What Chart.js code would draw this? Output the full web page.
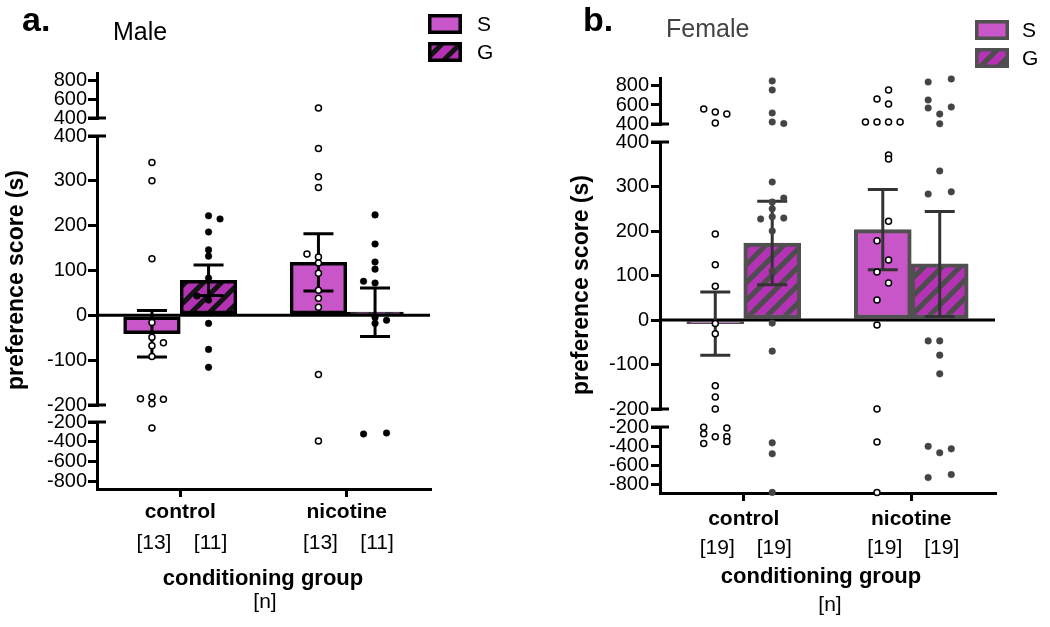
<!DOCTYPE html>
<html><head><meta charset="utf-8">
<script src="https://cdn.jsdelivr.net/npm/chart.js@4/dist/chart.umd.min.js"></script>
<style>
html,body{margin:0;padding:0;background:#fff;}
#wrap{position:relative;width:1050px;height:627px;overflow:hidden;background:#fff;}
canvas{position:absolute;top:0;}
#cM{left:0;} #cF{left:525px;}
</style></head><body>
<div id="wrap"><canvas id="cM" width="525" height="627"></canvas><canvas id="cF" width="525" height="627"></canvas></div>
<script>
const FONT = '"Liberation Sans", Arial, Helvetica, sans-serif';

// ---------- data ----------
const categories = ['control', 'nicotine'];
const seriesLabels = ['S', 'G'];
const topTicks = [400, 600, 800];
const midTicks = [-200, -100, 0, 100, 200, 300, 400];
const botTicks = [-800, -600, -400, -200];

// Male
const maleSMean = [-41, 118];
const maleSSem = [52, 64];
const maleGMean = [78, 7];
const maleGSem = [34, 54];
const maleSN = [13, 13];
const maleGN = [11, 11];
const maleSControl = [341, 300, 126, -16, -49, -68, -61, -92, -186, -182, -197, -187, -261];
const maleSControlJit = [0, 0, 0, 0, 0, 0, 1, 0, -1, 0, 0, 1, 0];
const maleGControl = [222, 215, 186, 146, 132, 83, 43, 34, -18, -76, -116];
const maleGControlJit = [0, 1, 0, 0, 0, 0, -1, 0, 0, 0, 0];
const maleSNicotine = [505, 372, 309, 285, 137, 130, 117, 94, 56, 38, 18, -132, -393];
const maleSNicotineJit = [0, 0, 0, 0, -1, 0, 0, 0, 0, 0, 0, 0, 0];
const maleGNicotine = [224, 159, 119, 103, 76, 72, -5, -18, -11, -322, -312];
const maleGNicotineJit = [0, 0, 0, 0, -1, 0, 0, 0, 1, -1, 1];

// Female
const femaleSMean = [-8, 203];
const femaleSSem = [71, 90];
const femaleGMean = [173, 126];
const femaleGSem = [94, 118];
const femaleSN = [19, 19];
const femaleGN = [19, 19];
const femaleSControl = [558, 526, 505, 410, 193, 124, 76, -8, -31, -148, -173, -200, -203, -210, -270, -300, -300, -370, -350];
const femaleSControlJit = [-1, 0, 1, 0, 0, 0, 0, 0, 0, 0, 0, 0, -1, 1, -1, 0, 1, -1, 1];
const femaleGControl = [853, 758, 516, 421, 405, 310, 274, 265, 250, 232, 227, 229, 200, 110, -7, -70, -364, -477, -877];
const femaleGControlJit = [0, 0, 0, 0, 1, 0, 1, 0, 0, 0, -1, 1, 0, 0, 0, 0, 0, 0, 0];
const femaleSNicotine = [758, 663, 611, 421, 421, 421, 421, 371, 362, 222, 178, 135, 108, 83, 45, -11, -200, -354, -877];
const femaleSNicotineJit = [0.5, -0.5, 0.5, -1.5, -0.5, 0.5, 1.5, 0.5, 0.5, 0.5, -0.5, 0.5, -0.5, 0.5, -0.5, -0.5, -0.5, -0.5, -0.5];
const femaleGNicotine = [874, 842, 653, 579, 568, 505, 402, 335, 288, 283, -47, -47, -79, -121, -400, -426, -467, -692, -723];
const femaleGNicotineJit = [1, -1, -1, 1, -1, 0, 0, 0, 1, -1, -1, 0, 0, 0, -1, 1, 0, 1, -1];

// ---------- helpers ----------
const catPct = 0.68;
const jitterStep = 0.069;
function segOf(v) { return v > 400 ? 'yTop' : (v < -200 ? 'yBot' : 'yMid'); }

function hatch(bg, stripe, size, lw) {
  const c = document.createElement('canvas');
  c.width = size; c.height = size;
  const g = c.getContext('2d');
  g.fillStyle = bg; g.fillRect(0, 0, size, size);
  g.strokeStyle = stripe; g.lineWidth = lw; g.lineCap = 'butt';
  g.beginPath();
  for (const k of [-size, 0, size]) { g.moveTo(k - 3, size + 3); g.lineTo(k + size + 3, -3); }
  g.stroke();
  return g.createPattern(c, 'repeat');
}

function yAxis(min, max, ticksArr, weight, stackWeight, tickPad) {
  return {
    type: 'linear', axis: 'y', position: 'left', stack: 'y', stackWeight, weight, min, max,
    afterBuildTicks: s => { s.ticks = ticksArr.map(v => ({ value: v })); },
    afterFit: s => { s.width = 60; },
    ticks: { autoSkip: false, color: '#000', padding: tickPad, font: { family: FONT, size: 20 }, callback: v => String(v) },
    grid: { display: true, drawOnChartArea: false, drawTicks: true, tickLength: 9, lineWidth: 3, color: '#000' },
    border: { display: true, color: '#000', width: 3 }
  };
}
function gapAxis(weight, stackWeight) {
  return {
    type: 'linear', axis: 'y', position: 'left', stack: 'y', stackWeight, weight, min: 0, max: 1,
    afterFit: s => { s.width = 60; },
    ticks: { display: false }, grid: { display: false }, border: { display: false }
  };
}

const decoPlugin = {
  id: 'deco',
  afterDatasetDraw(chart, args) {
    if (args.meta.type !== 'bar' || args.index !== 0) return;
    const P = chart.options.plugins.deco;
    const ctx = chart.ctx, ca = chart.chartArea, ym = chart.scales.yMid;
    ctx.save();
    const y0 = ym.getPixelForValue(0);
    ctx.strokeStyle = '#000'; ctx.lineWidth = 3;
    ctx.beginPath(); ctx.moveTo(ca.left, y0); ctx.lineTo(ca.right, y0); ctx.stroke();
    ctx.strokeStyle = P.errColor; ctx.lineWidth = 3;
    [[P.sMean, P.sSem], [P.gMean, P.gSem]].forEach(([m, e], di) => {
      const meta = chart.getDatasetMeta(di);
      m.forEach((mv, i) => {
        const x = meta.data[i].x;
        const yt = ym.getPixelForValue(mv + e[i]);
        const yb = ym.getPixelForValue(mv - e[i]);
        ctx.beginPath();
        ctx.moveTo(x, yt); ctx.lineTo(x, yb);
        ctx.moveTo(x - 15, yt); ctx.lineTo(x + 15, yt);
        ctx.moveTo(x - 15, yb); ctx.lineTo(x + 15, yb);
        ctx.stroke();
      });
    });
    ctx.restore();
  },
  afterDraw(chart) {
    const P = chart.options.plugins.deco;
    const ctx = chart.ctx, ca = chart.chartArea, sc = chart.scales;
    ctx.save();
    ctx.strokeStyle = '#000'; ctx.lineWidth = 3;
    [sc.yTop.bottom, sc.yMid.top, sc.yMid.bottom, sc.yBot.top].forEach(y => {
      ctx.beginPath(); ctx.moveTo(ca.left - 9, y); ctx.lineTo(ca.left + 9, y); ctx.stroke();
    });
    ctx.textAlign = 'left'; ctx.textBaseline = 'alphabetic';
    ctx.fillStyle = '#000'; ctx.font = 'bold 34px ' + FONT;
    ctx.fillText(P.letter, P.letterPos[0], P.letterPos[1]);
    ctx.fillStyle = P.titleColor; ctx.font = '25px ' + FONT;
    ctx.fillText(P.title, P.titlePos[0], P.titlePos[1]);
    [0, 1].forEach(di => {
      const ds = chart.data.datasets[di];
      const lx = P.legendPos[0], ly = P.legendPos[1] + di * P.legendGap;
      ctx.fillStyle = ds.backgroundColor; ctx.fillRect(lx, ly, 34, 20);
      ctx.strokeStyle = ds.borderColor; ctx.lineWidth = 3.5;
      ctx.strokeRect(lx + 1.75, ly + 1.75, 34 - 3.5, 20 - 3.5);
      ctx.fillStyle = '#000'; ctx.font = '21px ' + FONT; ctx.textBaseline = 'middle';
      ctx.fillText(ds.label, P.legendTextX, ly + 11);
    });
    ctx.save();
    ctx.translate(P.yTitlePos[0], P.yTitlePos[1]); ctx.rotate(-Math.PI / 2);
    ctx.textAlign = 'center'; ctx.textBaseline = 'middle'; ctx.fillStyle = '#000';
    ctx.font = 'bold 23px ' + FONT;
    ctx.fillText('preference score (s)', 0, 0);
    ctx.restore();
    ctx.textAlign = 'center'; ctx.textBaseline = 'middle'; ctx.fillStyle = '#000';
    ctx.font = '21px ' + FONT;
    [P.sN, P.gN].forEach((arr, di) => {
      const meta = chart.getDatasetMeta(di);
      arr.forEach((n, i) => ctx.fillText('[' + n + ']', meta.data[i].x + 2, P.nY));
    });
    ctx.font = 'bold 22px ' + FONT;
    ctx.fillText('conditioning group', P.cgPos[0], P.cgPos[1]);
    ctx.font = '21px ' + FONT;
    ctx.fillText('[n]', P.nnPos[0], P.nnPos[1]);
    ctx.restore();
  }
};

function buildPanel(P) {
  const gPattern = hatch(P.gFill, P.stripe, 18, 5);
  const barOff = catPct / 4;
  const barCommon = { borderColor: P.barBorder, borderWidth: P.barBorderW, borderSkipped: false,
    xAxisID: 'xp', yAxisID: 'yMid', order: 1, grouped: false, categoryPercentage: 1, barPercentage: 1 };
  const datasets = [
    Object.assign({ type: 'bar', label: seriesLabels[0], backgroundColor: P.sFill,
      data: P.sMean.map((m, i) => ({ x: i - barOff, y: m })) }, barCommon),
    Object.assign({ type: 'bar', label: seriesLabels[1], backgroundColor: gPattern,
      data: P.gMean.map((m, i) => ({ x: i + barOff, y: m })) }, barCommon)
  ];
  const groups = [
    { pts: P.sPts, jit: P.sJit, side: -1, name: 'S', bg: '#fff', bc: '#000', r: 3, bw: 1.5 },
    { pts: P.gPts, jit: P.gJit, side: 1, name: 'G', bg: P.dotColor, bc: P.dotColor, r: 3.3, bw: 0.5 }
  ];
  groups.forEach(g => {
    ['yTop', 'yMid', 'yBot'].forEach(seg => {
      const data = [];
      g.pts.forEach((vals, ci) => vals.forEach((v, k) => {
        if (segOf(v) === seg) data.push({ x: ci + g.side * barOff + g.jit[ci][k] * jitterStep, y: v });
      }));
      datasets.push({ type: 'scatter', label: g.name + ' points', data, xAxisID: 'xp', yAxisID: seg, order: 0,
        clip: false, pointRadius: g.r, pointBackgroundColor: g.bg, pointBorderColor: g.bc, pointBorderWidth: g.bw,
        showLine: false });
    });
  });
  const w = P.weights;
  new Chart(document.getElementById(P.canvas), {
    type: 'bar',
    data: { labels: categories, datasets },
    options: {
      responsive: false, animation: false, events: [],
      layout: { padding: P.padding },
      plugins: { legend: { display: false }, tooltip: { enabled: false }, title: { display: false },
        deco: P },
      scales: {
        x: { type: 'category', position: 'bottom', offset: true, weight: 2,
          afterFit: s => { s.height = 40; },
          grid: { display: true, offset: false, drawOnChartArea: false, tickLength: 8, lineWidth: 3, color: '#000' },
          border: { display: true, color: '#000', width: 3 },
          ticks: { color: '#000', padding: P.xTickPad, font: { family: FONT, size: 21, weight: 'bold' } } },
        xp: { type: 'linear', axis: 'x', position: 'bottom', display: false, offset: false,
          grid: { offset: false }, min: -0.5, max: 1.5, weight: 1,
          afterBuildTicks: s => { s.ticks = [{ value: -0.5 }, { value: 1.5 }]; } },
        yBot: yAxis(P.botRange[0], P.botRange[1], botTicks, 1, w[4], P.yTickPad),
        gap2: gapAxis(2, w[3]),
        yMid: yAxis(-200, 400, midTicks, 3, w[2], P.yTickPad),
        gap1: gapAxis(4, w[1]),
        yTop: yAxis(P.topRange[0], P.topRange[1], topTicks, 5, w[0], P.yTickPad)
      }
    },
    plugins: [decoPlugin]
  });
}

buildPanel({
  canvas: 'cM', padding: { left: 37, right: 95, top: 73, bottom: 98 },
  weights: [45, 18, 269, 17, 67], topRange: [400, 874], botRange: [-881, -200],
  sMean: maleSMean, sSem: maleSSem, gMean: maleGMean, gSem: maleGSem, sN: maleSN, gN: maleGN,
  sPts: [maleSControl, maleSNicotine], sJit: [maleSControlJit, maleSNicotineJit],
  gPts: [maleGControl, maleGNicotine], gJit: [maleGControlJit, maleGNicotineJit],
  sFill: '#c956c9', gFill: '#b232b2', stripe: '#141414', barBorder: '#000', barBorderW: 3.5,
  errColor: '#000', dotColor: '#000', xTickPad: 3, yTickPad: 1,
  letter: 'a.', letterPos: [22, 31], title: 'Male', titlePos: [113, 40], titleColor: '#000',
  yTitlePos: [17, 280], legendPos: [428, 14], legendTextX: 477, legendGap: 28,
  nY: 543, cgPos: [263, 579], nnPos: [265, 602]
});

buildPanel({
  canvas: 'cF', padding: { left: 75, right: 55, top: 78, bottom: 94 },
  weights: [46, 18, 267, 18, 66], topRange: [400, 884], botRange: [-883, -200],
  sMean: femaleSMean, sSem: femaleSSem, gMean: femaleGMean, gSem: femaleGSem, sN: femaleSN, gN: femaleGN,
  sPts: [femaleSControl, femaleSNicotine], sJit: [femaleSControlJit, femaleSNicotineJit],
  gPts: [femaleGControl, femaleGNicotine], gJit: [femaleGControlJit, femaleGNicotineJit],
  sFill: '#c956c9', gFill: '#b432b4', stripe: '#4d4d4d', barBorder: '#505050', barBorderW: 4,
  errColor: '#333', dotColor: '#444', xTickPad: 6, yTickPad: 2,
  letter: 'b.', letterPos: [58, 31], title: 'Female', titlePos: [141, 37], titleColor: '#444',
  yTitlePos: [57, 285], legendPos: [450, 20], legendTextX: 497, legendGap: 28,
  nY: 548, cgPos: [296, 577], nnPos: [305, 605]
});
</script>
</body></html>
